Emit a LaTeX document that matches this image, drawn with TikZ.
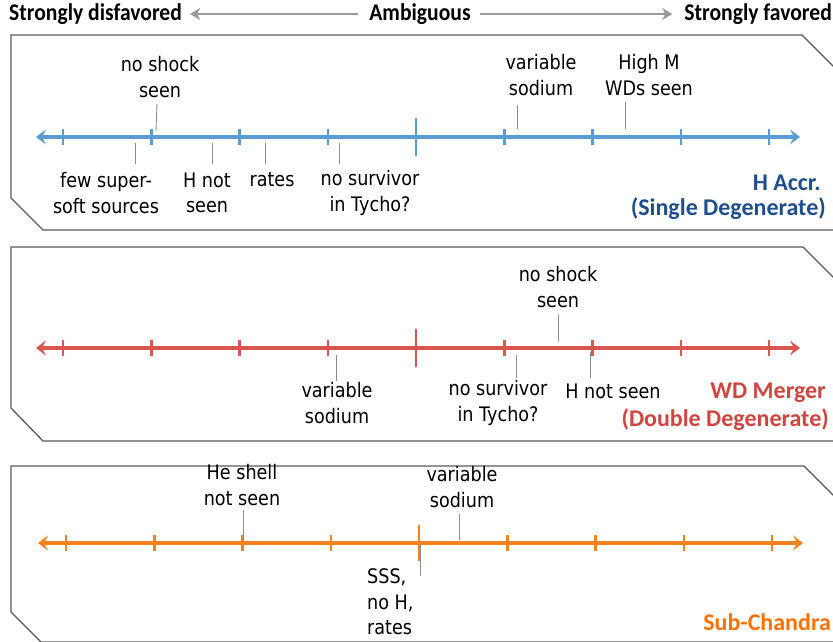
\documentclass[tikz,border=0pt]{standalone}
\usepackage{fontspec}
\setmainfont{Carlito}
\newfontfamily\lblfont{DejaVu Sans}[FakeStretch=0.88]
\newfontfamily\hdrfont{Carlito}[FakeStretch=0.9]
\usetikzlibrary{arrows.meta}
\definecolor{axblue}{HTML}{5B9BD5}
\definecolor{axred}{HTML}{D95550}
\definecolor{axorange}{HTML}{F7821B}
\definecolor{tblue}{HTML}{1F4E8C}
\definecolor{tred}{HTML}{D0453F}
\definecolor{torange}{HTML}{FF7200}
\definecolor{frame}{HTML}{5A5A5A}
\definecolor{leadc}{HTML}{8C8C8C}
\definecolor{hgray}{HTML}{9A9A9A}
\begin{document}
\begin{tikzpicture}[x=1pt,y=-1pt,
  hdr/.style={font=\hdrfont\fontsize{24}{26}\selectfont\bfseries, inner sep=0pt},
  ttl/.style={font=\fontsize{24}{27}\selectfont\bfseries, inner sep=0pt, anchor=east},
  lbl/.style={font=\lblfont\fontsize{20}{25.5}\selectfont, align=center, inner sep=0pt},
  panel/.style={draw=frame, line width=1.3pt},
  harrow/.style={draw=hgray, line width=2.5pt, -{Stealth[length=10pt,width=12pt,inset=3pt]}},
  axisline/.style={line width=3.3pt, {Stealth[length=10pt,width=15pt,inset=4pt]}-{Stealth[length=10pt,width=15pt,inset=4pt]}},
  tickmark/.style={line width=2.5pt},
  leadline/.style={draw=leadc, line width=0.9pt}]
\useasboundingbox (0,0) rectangle (833,642);
\clip (0,0) rectangle (833,642);

% header
\node[hdr, anchor=west] (sd) at (9,14) {Strongly disfavored};
\node[hdr] (amb) at (420,14) {Ambiguous};
\node[hdr, anchor=east] (sf) at (832,14) {Strongly favored};
\draw[harrow] ([xshift=-11pt]amb.west) -- ([xshift=8pt]sd.east);
\draw[harrow] ([xshift=9pt]amb.east) -- ([xshift=-12pt]sf.west);

% panels
\draw[panel] (850,83) -- (802,35) -- (11,35) -- (11,198) -- (43,230) -- (850,230);
\draw[panel] (850,294) -- (803,247) -- (11,247) -- (11,408) -- (43,441) -- (850,441);
\draw[panel] (850,512) -- (804,466) -- (11,466) -- (11,612) -- (41,642) -- (850,642);

% ===== panel 1: H accretion =====
\coordinate (L1) at (36,137);
\coordinate (R1) at (800,137);
\draw[axisline, axblue] (L1) -- (R1);
\foreach \i in {0,1,2,3,5,6,7,8}
  \draw[tickmark, axblue] (63+88.25*\i,129) -- (63+88.25*\i,145);
\draw[tickmark, axblue] (416,118) -- (416,156);

\node[lbl] (ns1) at (160,77) {no shock\\seen};
\node[lbl] (vs1) at (541,75) {variable\\sodium};
\node[lbl] (hm1) at (649,75) {High M\\WDs seen};
\node[lbl] (fs1) at (106,193) {few super-\\soft sources};
\node[lbl] (hn1) at (207,193) {H not\\seen};
\node[lbl] (ra1) at (272,180) {rates};
\node[lbl] (nv1) at (370,193) {no survivor\\in Tycho?};
\coordinate (ns1a) at (157,104); \coordinate (ns1b) at (156,131);
\coordinate (vs1a) at (517,105); \coordinate (vs1b) at (517,129);
\coordinate (hm1a) at (625,102); \coordinate (hm1b) at (625,129);
\coordinate (fs1a) at (135,143); \coordinate (fs1b) at (135,164);
\coordinate (hn1a) at (212,143); \coordinate (hn1b) at (212,164);
\coordinate (ra1a) at (265,143); \coordinate (ra1b) at (265,164);
\coordinate (nv1a) at (339,143); \coordinate (nv1b) at (339,164);
\foreach \n in {ns1,vs1,hm1,fs1,hn1,ra1,nv1}
  \draw[leadline] (\n a) -- (\n b);
\node[ttl, text=tblue] (t1a) at (821,183) {H Accr.};
\node[ttl, text=tblue] (t1b) at (826,209) {(Single Degenerate)};

% ===== panel 2: WD merger =====
\coordinate (L2) at (36,348);
\coordinate (R2) at (800,348);
\draw[axisline, axred] (L2) -- (R2);
\foreach \i in {0,1,2,3,5,6,7,8}
  \draw[tickmark, axred] (63+88.25*\i,340) -- (63+88.25*\i,356);
\draw[tickmark, axred] (416,329) -- (416,367);

\node[lbl] (ns2) at (558,287) {no shock\\seen};
\node[lbl] (vs2) at (337,403) {variable\\sodium};
\node[lbl] (nv2) at (498,403) {no survivor\\in Tycho?};
\node[lbl] (hn2) at (613,391) {H not seen};
\coordinate (ns2a) at (558,315); \coordinate (ns2b) at (558,341);
\coordinate (vs2a) at (336,355); \coordinate (vs2b) at (336,381);
\coordinate (nv2a) at (516,355); \coordinate (nv2b) at (516,378);
\coordinate (hn2a) at (590,352); \coordinate (hn2b) at (590,378);
\foreach \n in {ns2,vs2,nv2,hn2}
  \draw[leadline] (\n a) -- (\n b);
\node[ttl, text=tred] (t2a) at (826,393) {WD Merger};
\node[ttl, text=tred] (t2b) at (829,420) {(Double Degenerate)};

% ===== panel 3: sub-Chandra =====
\coordinate (L3) at (38,543);
\coordinate (R3) at (803,543);
\draw[axisline, axorange] (L3) -- (R3);
\foreach \i in {0,1,2,3,5,6,7,8}
  \draw[tickmark, axorange] (66+88.25*\i,535) -- (66+88.25*\i,551);
\draw[tickmark, axorange] (419,525) -- (419,561);

\node[lbl] (he3) at (242,485) {He shell\\not seen};
\node[lbl] (vs3) at (462,487) {variable\\sodium};
\node[lbl, align=left, anchor=west] (ss3) at (367,602) {SSS,\\no H,\\rates};
\coordinate (he3a) at (243,510); \coordinate (he3b) at (243,540);
\coordinate (vs3a) at (459,514); \coordinate (vs3b) at (459,540);
\coordinate (ss3a) at (420,545); \coordinate (ss3b) at (420,576);
\foreach \n in {he3,vs3,ss3}
  \draw[leadline] (\n a) -- (\n b);
\node[ttl, text=torange] (t3) at (831,622) {Sub-Chandra};
\end{tikzpicture}
\end{document}
